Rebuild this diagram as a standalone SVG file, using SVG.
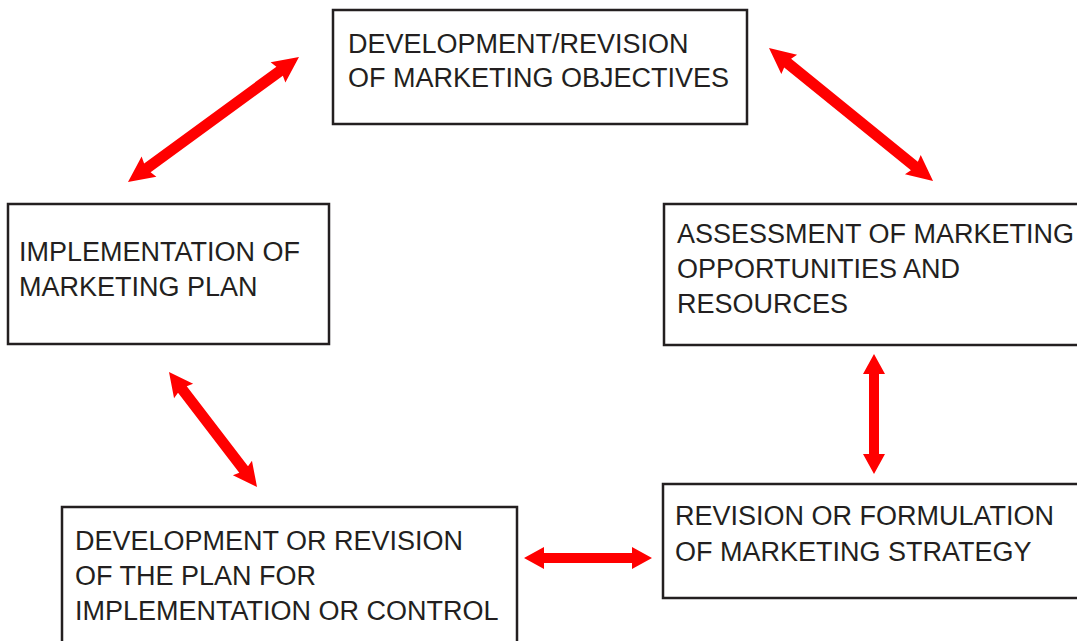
<svg xmlns="http://www.w3.org/2000/svg" width="1077" height="641" viewBox="0 0 1077 641">
<style>
.box{fill:#fff;stroke:#231f20;stroke-width:2.5}
.lbl{font-family:"Liberation Sans",Arial,sans-serif;font-size:27px;fill:#231f20}
.arr{fill:#ff0000}
</style>
<rect width="1077" height="641" fill="#fff"/>
<g id="connectors">
<polygon class="arr" transform="translate(128,182) rotate(-36.16)" points="0,0 26,-12.5 24,-5.5 187.8,-5.5 185.8,-12.5 211.8,0 185.8,12.5 187.8,5.5 24,5.5 26,12.5"/>
<polygon class="arr" transform="translate(769,48) rotate(39.04)" points="0,0 26,-12.5 24,-5.5 187.2,-5.5 185.2,-12.5 211.2,0 185.2,12.5 187.2,5.5 24,5.5 26,12.5"/>
<polygon class="arr" transform="translate(874,354) rotate(90)" points="0,0 20,-11 20,-5 100,-5 100,-11 120,0 100,11 100,5 20,5 20,11"/>
<polygon class="arr" transform="translate(524,558)" points="0,0 20,-11 20,-5 108,-5 108,-11 128,0 108,11 108,5 20,5 20,11"/>
<polygon class="arr" transform="translate(169,372) rotate(52.57)" points="0,0 24,-12 22,-5.5 122.8,-5.5 120.8,-12 144.8,0 120.8,12 122.8,5.5 22,5.5 24,12"/>
</g>
<g id="objectives">
<rect class="box" x="333" y="10" width="414" height="114"/>
<text class="lbl" x="348" y="53">DEVELOPMENT/REVISION</text>
<text class="lbl" x="348" y="87">OF MARKETING OBJECTIVES</text>
</g>
<g id="implementation">
<rect class="box" x="8" y="204" width="321" height="140"/>
<text class="lbl" x="19" y="261">IMPLEMENTATION OF</text>
<text class="lbl" x="19" y="296">MARKETING PLAN</text>
</g>
<g id="assessment">
<rect class="box" x="664" y="204" width="420" height="141"/>
<text class="lbl" x="677" y="243">ASSESSMENT OF MARKETING</text>
<text class="lbl" x="677" y="278">OPPORTUNITIES AND</text>
<text class="lbl" x="677" y="313">RESOURCES</text>
</g>
<g id="strategy">
<rect class="box" x="663" y="484" width="420" height="114"/>
<text class="lbl" x="675" y="525">REVISION OR FORMULATION</text>
<text class="lbl" x="675" y="561">OF MARKETING STRATEGY</text>
</g>
<g id="plan">
<rect class="box" x="62" y="507" width="455" height="150"/>
<text class="lbl" x="75" y="550">DEVELOPMENT OR REVISION</text>
<text class="lbl" x="75" y="585">OF THE PLAN FOR</text>
<text class="lbl" x="75" y="620">IMPLEMENTATION OR CONTROL</text>
</g>
</svg>
